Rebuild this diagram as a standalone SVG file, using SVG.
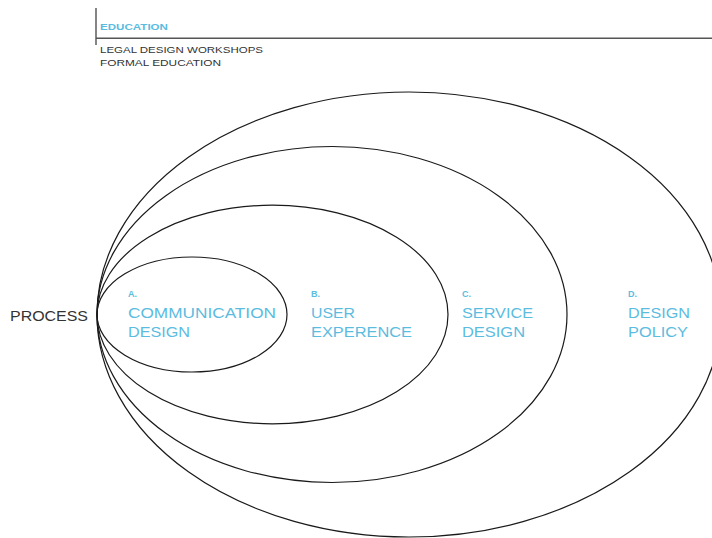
<svg xmlns="http://www.w3.org/2000/svg" width="712" height="538" viewBox="0 0 712 538">
<style>
.ring{fill:none;stroke:#1a1a1a;stroke-width:1.2}
.lbl{font-family:"Liberation Sans",Arial,sans-serif;fill:#5bbcdf;font-size:15px}
.let{font-family:"Liberation Sans",Arial,sans-serif;fill:#5bbcdf;font-size:9px;font-weight:bold}
.gray{font-family:"Liberation Sans",Arial,sans-serif;fill:#333333}
</style>
<rect width="712" height="538" fill="#ffffff"/>
<g id="header">
<line x1="96" y1="8" x2="96" y2="45" stroke="#333" stroke-width="1.2"/>
<line x1="96" y1="38.3" x2="712" y2="38.3" stroke="#555" stroke-width="1.6"/>
<text x="100" y="30" class="let" textLength="68" lengthAdjust="spacingAndGlyphs" style="font-size:8.5px">EDUCATION</text>
<text x="100" y="53" class="gray" font-size="9.5" textLength="163" lengthAdjust="spacingAndGlyphs">LEGAL DESIGN WORKSHOPS</text>
<text x="100" y="65.5" class="gray" font-size="9.5" textLength="121" lengthAdjust="spacingAndGlyphs">FORMAL EDUCATION</text>
</g>
<g id="process">
<text x="10" y="321" class="gray" font-size="15" textLength="78" lengthAdjust="spacingAndGlyphs">PROCESS</text>
</g>
<g id="D">
<ellipse class="ring" cx="409" cy="314.5" rx="312" ry="222.5"/>
<text x="628" y="297" class="let">D.</text>
<text x="628" y="318" class="lbl" textLength="62" lengthAdjust="spacingAndGlyphs">DESIGN</text>
<text x="628" y="337" class="lbl" textLength="60" lengthAdjust="spacingAndGlyphs">POLICY</text>
</g>
<g id="C">
<ellipse class="ring" cx="332" cy="314.5" rx="235" ry="168"/>
<text x="462" y="297" class="let">C.</text>
<text x="462" y="318" class="lbl" textLength="71" lengthAdjust="spacingAndGlyphs">SERVICE</text>
<text x="462" y="337" class="lbl" textLength="63" lengthAdjust="spacingAndGlyphs">DESIGN</text>
</g>
<g id="B">
<ellipse class="ring" cx="272.5" cy="314.5" rx="175.5" ry="109.3"/>
<text x="311" y="297" class="let">B.</text>
<text x="311" y="318" class="lbl" textLength="44" lengthAdjust="spacingAndGlyphs">USER</text>
<text x="311" y="337" class="lbl" textLength="101" lengthAdjust="spacingAndGlyphs">EXPERENCE</text>
</g>
<g id="A">
<ellipse class="ring" cx="192" cy="314.5" rx="95" ry="57.5"/>
<text x="128" y="297" class="let">A.</text>
<text x="128" y="318" class="lbl" textLength="148" lengthAdjust="spacingAndGlyphs">COMMUNICATION</text>
<text x="128" y="337" class="lbl" textLength="62" lengthAdjust="spacingAndGlyphs">DESIGN</text>
</g>
<g id="connectors"></g>
</svg>
